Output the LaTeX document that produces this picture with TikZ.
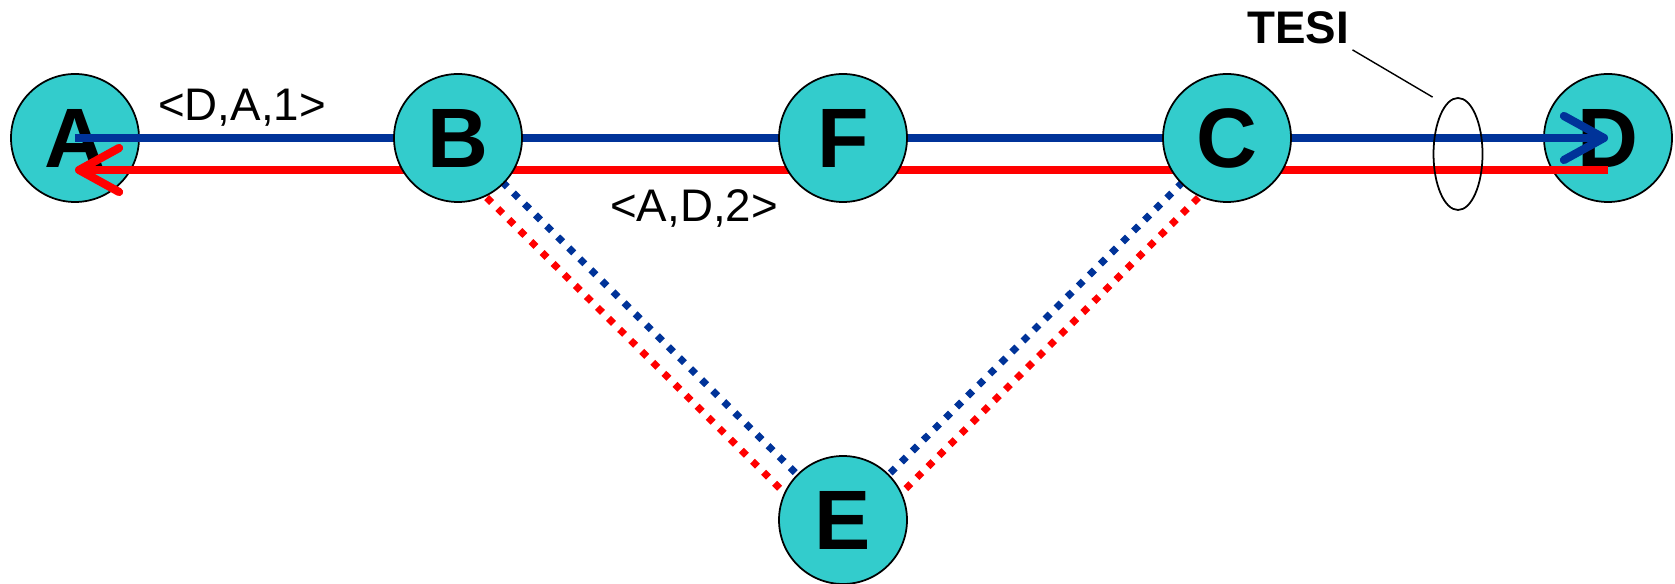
\documentclass[tikz,border=0pt]{standalone}
\usepackage{fontspec}
\setmainfont{Liberation Sans}
\usetikzlibrary{arrows.meta,backgrounds,shapes.geometric}
\definecolor{nodocian}{RGB}{51,204,204}
\definecolor{azulruta}{RGB}{0,51,153}
\definecolor{rojoruta}{RGB}{255,0,0}
\tikzset{
    nodo/.style={circle,draw=black,line width=0.5pt,fill=nodocian,minimum size=1.28cm,
        inner sep=0pt,font=\fontsize{24}{28}\selectfont\bfseries},
    ruta/.style={line width=0.082cm},
    flecha/.style={-{Straight Barb[length=0.4cm,width=0.44cm,round]}},
    punteado/.style={line width=0.07cm,dash pattern=on 0.07cm off 0.086cm},
    etiqueta/.style={font=\fontsize{13}{15}\selectfont}
}
\begin{document}
\begin{tikzpicture}
        \useasboundingbox (0,0) rectangle (16.75,-5.84);

        % nodos de la red
        \node[nodo] (B) at (4.58,-1.38) {B};
        \node[nodo] (F) at (8.43,-1.38) {F};
        \node[nodo] (C) at (12.27,-1.38) {C};
        \node[nodo] (E) at (8.43,-5.20) {E};

        \begin{scope}[on background layer]
            \node[nodo] (A) at (0.75,-1.38) {A};
            \node[nodo] (D) at (16.08,-1.38) {D};

            % camino principal
            \draw[ruta,flecha,azulruta] (A.center) -- (D.center);
            \draw[ruta,flecha,rojoruta] ([yshift=-0.32cm]D.center) -- ([yshift=-0.32cm]A.center);

            % camino alternativo por E
            \draw[punteado,azulruta] (B.center) -- (E.center);
            \draw[punteado,rojoruta] ([shift={(-0.156,-0.156)}]B.center) -- ([shift={(-0.156,-0.156)}]E.center);
            \draw[punteado,azulruta] (C.center) -- (E.center);
            \draw[punteado,rojoruta] ([shift={(0.156,-0.156)}]C.center) -- ([shift={(0.156,-0.156)}]E.center);
        \end{scope}

        \node[etiqueta] (da1) at (2.42,-1.08) {<D,A,1>};
        \node[etiqueta] (ad2) at (6.94,-2.08) {<A,D,2>};

        \node[etiqueta,font=\fontsize{13}{15}\selectfont\bfseries,inner sep=0pt] (tesi) at (12.98,-0.28) {TESI};
        \node[ellipse,draw,line width=0.5pt,minimum width=0.49cm,minimum height=1.12cm,inner sep=0pt] (anillo) at (14.58,-1.54) {};
        \draw[line width=0.4pt] ([xshift=0.03cm,yshift=-0.05cm]tesi.south east) -- (anillo.north -| anillo.west);
    \end{tikzpicture}
\end{document}
